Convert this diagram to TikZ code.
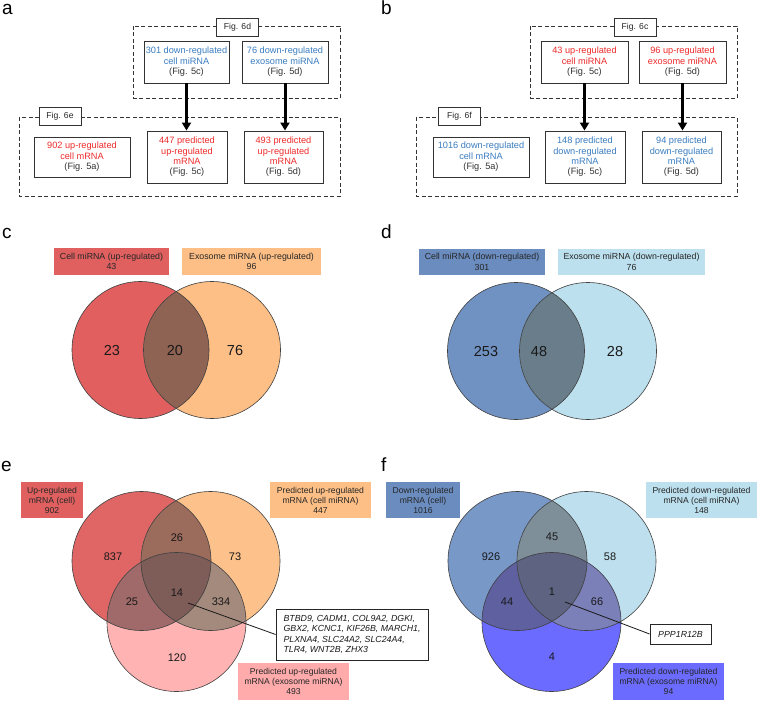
\documentclass[tikz,border=0pt]{standalone}
\usepackage{fontspec}
\setmainfont{Liberation Sans}
\usetikzlibrary{arrows.meta}
\definecolor{txtred}{HTML}{EE2B2B}
\definecolor{txtblue}{HTML}{3A7DC0}
\definecolor{cRed}{HTML}{E15F5F}
\definecolor{cOrange}{HTML}{FDBF86}
\definecolor{cRO}{HTML}{8F6353}
\definecolor{dBlue}{HTML}{7092C2}
\definecolor{dLight}{HTML}{BDE0EE}
\definecolor{dOv}{HTML}{697E8A}
\definecolor{eA}{HTML}{E06666}
\definecolor{eB}{HTML}{FDC28B}
\definecolor{eC}{HTML}{FFB3B3}
\definecolor{eAB}{HTML}{9B6B5C}
\definecolor{eAC}{HTML}{A06A6A}
\definecolor{eBC}{HTML}{A48A7C}
\definecolor{eABC}{HTML}{7E5C58}
\definecolor{fA}{HTML}{7898C8}
\definecolor{fB}{HTML}{BEE0EE}
\definecolor{fC}{HTML}{6B6BFF}
\definecolor{fAB}{HTML}{7F8F9A}
\definecolor{fAC}{HTML}{5E60A0}
\definecolor{fBC}{HTML}{7B80B8}
\definecolor{fABC}{HTML}{5D6380}
\definecolor{lRed}{HTML}{E06060}
\definecolor{lOrange}{HTML}{FDBF85}
\definecolor{lPink}{HTML}{FFABAB}
\definecolor{lBlue}{HTML}{6A8CBF}
\definecolor{lLight}{HTML}{BCE0EE}
\definecolor{lViolet}{HTML}{6B6BFF}
\begin{document}
\begin{tikzpicture}[x=1pt,y=-1pt,
 fbox/.style={draw=black!80, line width=0.9pt, fill=white, align=center, inner sep=0pt, text=black!80, font=\fontsize{9.2}{10.4}\selectfont},
 grp/.style={draw=black!80, dash pattern=on 4pt off 2.5pt, line width=0.9pt},
 figlbl/.style={draw=black!80, line width=0.9pt, fill=white, minimum width=42pt, minimum height=18pt, inner sep=0pt, text=black!85, font=\fontsize{8.6}{10}\selectfont},
 bigarrow/.style={line width=3pt, -{Triangle[width=9pt,length=8pt]}},
 vlabel/.style={align=center, inner sep=0pt, text=black!85, font=\fontsize{8.8}{10.4}\selectfont},
 vlabele/.style={align=center, inner sep=0pt, text=black!85, font=\fontsize{8.6}{10}\selectfont},
 vnum/.style={text=black!90, font=\fontsize{14.5}{16}\selectfont},
 vnumsm/.style={text=black!90, font=\fontsize{11}{13}\selectfont},
 circ/.style={draw=black!75, line width=0.6pt},
 letter/.style={font=\fontsize{19}{20}\selectfont, anchor=base west, inner sep=0pt},
 callout/.style={draw=black!85, line width=0.8pt, fill=white, align=left, inner sep=0pt, text=black!90, font=\fontsize{8.8}{10.4}\selectfont\itshape},
]
\useasboundingbox[fill=white] (0,0) rectangle (758,701);

% ---------------- panel letters
\node[letter] (La) at (2,15) {a};
\node[letter] (Lb) at (381,15) {b};
\node[letter] (Lc) at (2,238) {c};
\node[letter] (Ld) at (381,238) {d};
\node[letter] (Le) at (1,471) {e};
\node[letter] (Lf) at (381,471) {f};

% ---------------- panel a
\draw[grp] (133,26) rectangle (340,98);
\draw[grp] (19,117) rectangle (340,196);
\node[figlbl] (g6d) at (237.5,27) {Fig. 6d};
\node[figlbl] (g6e) at (60,116) {Fig. 6e};
\node[fbox, minimum width=85pt, minimum height=42pt] (a1) at (186.5,62)
  {\textcolor{txtblue}{301 down-regulated}\\\textcolor{txtblue}{cell miRNA}\\(Fig. 5c)};
\node[fbox, minimum width=86pt, minimum height=42pt] (a2) at (285,62)
  {\textcolor{txtblue}{76 down-regulated}\\\textcolor{txtblue}{exosome miRNA}\\(Fig. 5d)};
\node[fbox, minimum width=96pt, minimum height=40pt] (a3) at (82,157)
  {\textcolor{txtred}{902 up-regulated}\\\textcolor{txtred}{cell mRNA}\\(Fig. 5a)};
\node[fbox, minimum width=80pt, minimum height=52pt] (a4) at (187,157)
  {\textcolor{txtred}{447 predicted}\\\textcolor{txtred}{up-regulated}\\\textcolor{txtred}{mRNA}\\(Fig. 5c)};
\node[fbox, minimum width=79pt, minimum height=52pt] (a5) at (283.5,157)
  {\textcolor{txtred}{493 predicted}\\\textcolor{txtred}{up-regulated}\\\textcolor{txtred}{mRNA}\\(Fig. 5d)};
\draw[bigarrow] (a1.south) -- (a1.south |- a4.north);
\draw[bigarrow] (a2.south) -- (a2.south |- a5.north);

% ---------------- panel b
\draw[grp] (530,26) rectangle (737,98);
\draw[grp] (416,117) rectangle (737,196);
\node[figlbl] (g6c) at (635,27) {Fig. 6c};
\node[figlbl] (g6f) at (459.5,116) {Fig. 6f};
\node[fbox, minimum width=87pt, minimum height=42pt] (b1) at (584.5,62)
  {\textcolor{txtred}{43 up-regulated}\\\textcolor{txtred}{cell miRNA}\\(Fig. 5c)};
\node[fbox, minimum width=87pt, minimum height=42pt] (b2) at (682.5,62)
  {\textcolor{txtred}{96 up-regulated}\\\textcolor{txtred}{exosome miRNA}\\(Fig. 5d)};
\node[fbox, minimum width=96pt, minimum height=40pt] (b3) at (481,157)
  {\textcolor{txtblue}{1016 down-regulated}\\\textcolor{txtblue}{cell mRNA}\\(Fig. 5a)};
\node[fbox, minimum width=80pt, minimum height=52pt] (b4) at (585,157)
  {\textcolor{txtblue}{148 predicted}\\\textcolor{txtblue}{down-regulated}\\\textcolor{txtblue}{mRNA}\\(Fig. 5c)};
\node[fbox, minimum width=79pt, minimum height=52pt] (b5) at (681.5,157)
  {\textcolor{txtblue}{94 predicted}\\\textcolor{txtblue}{down-regulated}\\\textcolor{txtblue}{mRNA}\\(Fig. 5d)};
\draw[bigarrow] (b1.south) -- (b1.south |- b4.north);
\draw[bigarrow] (b2.south) -- (b2.south |- b5.north);

% ---------------- panel c
\node[vlabel, fill=lRed, minimum width=115pt, minimum height=27pt] (cl1) at (111.5,261.5) {Cell miRNA (up-regulated)\\43};
\node[vlabel, fill=lOrange, minimum width=139pt, minimum height=27pt] (cl2) at (251.5,261.5) {Exosome miRNA (up-regulated)\\96};
\coordinate (cA) at (140.5,350);
\coordinate (cB) at (212,350);
\fill[cRed] (cA) circle[radius=68.5pt];
\fill[cOrange] (cB) circle[radius=68.5pt];
\begin{scope}
  \clip (cA) circle[radius=68.5pt];
  \fill[cRO] (cB) circle[radius=68.5pt];
\end{scope}
\draw[circ] (cA) circle[radius=68.5pt];
\draw[circ] (cB) circle[radius=68.5pt];
\node[vnum] (c23) at (112,351) {23};
\node[vnum] (c20) at (175,351) {20};
\node[vnum] (c76) at (235,351) {76};

% ---------------- panel d
\node[vlabel, fill=lBlue, minimum width=126pt, minimum height=26pt] (dl1) at (482,262) {Cell miRNA (down-regulated)\\301};
\node[vlabel, fill=lLight, minimum width=147pt, minimum height=26pt] (dl2) at (631.5,262) {Exosome miRNA (down-regulated)\\76};
\coordinate (dA) at (516,351);
\coordinate (dB) at (588,351);
\fill[dBlue] (dA) circle[radius=68.5pt];
\fill[dLight] (dB) circle[radius=68.5pt];
\begin{scope}
  \clip (dA) circle[radius=68.5pt];
  \fill[dOv] (dB) circle[radius=68.5pt];
\end{scope}
\draw[circ] (dA) circle[radius=68.5pt];
\draw[circ] (dB) circle[radius=68.5pt];
\node[vnum] (d253) at (486,352) {253};
\node[vnum] (d48) at (539,352) {48};
\node[vnum] (d28) at (615,352) {28};

% ---------------- panel e
\node[vlabele, fill=lRed, minimum width=62pt, minimum height=36pt] (el1) at (52,500) {Up-regulated\\mRNA (cell)\\902};
\node[vlabele, fill=lOrange, minimum width=101pt, minimum height=36pt] (el2) at (320.5,500) {Predicted up-regulated\\mRNA (cell miRNA)\\447};
\node[vlabele, fill=lPink, minimum width=111pt, minimum height=37pt] (el3) at (293.5,681.5) {Predicted up-regulated\\mRNA (exosome miRNA)\\493};
\coordinate (eCA) at (141.5,561);
\coordinate (eCB) at (210.5,561);
\coordinate (eCC) at (176.5,622);
\fill[eA] (eCA) circle[radius=69.5pt];
\fill[eB] (eCB) circle[radius=69.5pt];
\fill[eC] (eCC) circle[radius=69.5pt];
\begin{scope}
  \clip (eCA) circle[radius=69.5pt];
  \fill[eAB] (eCB) circle[radius=69.5pt];
  \fill[eAC] (eCC) circle[radius=69.5pt];
  \clip (eCB) circle[radius=69.5pt];
  \fill[eABC] (eCC) circle[radius=69.5pt];
\end{scope}
\begin{scope}
  \clip (eCB) circle[radius=69.5pt];
  \clip (eCC) circle[radius=69.5pt];
  \clip (140,540) -- (300,540) -- (300,700) -- (178,700) -- cycle;
  \fill[eBC] (eCC) circle[radius=69.5pt];
\end{scope}
\begin{scope}
  \clip (eCA) circle[radius=69.5pt];
  \clip (eCB) circle[radius=69.5pt];
  \fill[eABC] (eCC) circle[radius=69.5pt];
\end{scope}
\draw[circ] (eCA) circle[radius=69.5pt];
\draw[circ] (eCB) circle[radius=69.5pt];
\draw[circ] (eCC) circle[radius=69.5pt];
\node[vnumsm] (e26) at (177,538) {26};
\node[vnumsm] (e837) at (113,557) {837};
\node[vnumsm] (e73) at (235,557) {73};
\node[vnumsm] (e25) at (132,602) {25};
\node[vnumsm] (e14) at (177,593) {14};
\node[vnumsm] (e334) at (221,602) {334};
\node[vnumsm] (e120) at (177,658) {120};
\node[callout, minimum width=152pt, minimum height=51pt] (ecall) at (352,634.5)
  {BTBD9, CADM1, COL9A2, DGKI,\\GBX2, KCNC1, KIF26B, MARCH1,\\PLXNA4, SLC24A2, SLC24A4,\\TLR4, WNT2B, ZHX3};
\coordinate (ept) at (188,603);
\draw[line width=0.8pt, black!90] (ept) -- (ecall.west);

% ---------------- panel f
\node[vlabele, fill=lBlue, minimum width=74pt, minimum height=36pt] (fl1) at (423,500) {Down-regulated\\mRNA (cell)\\1016};
\node[vlabele, fill=lLight, minimum width=111pt, minimum height=36pt] (fl2) at (701.5,500) {Predicted down-regulated\\mRNA (cell miRNA)\\148};
\node[vlabele, fill=lViolet, minimum width=111pt, minimum height=37pt] (fl3) at (668.5,681.5) {Predicted down-regulated\\mRNA (exosome miRNA)\\94};
\coordinate (fCA) at (517.5,561);
\coordinate (fCB) at (586.5,561);
\coordinate (fCC) at (551.5,622);
\fill[fA] (fCA) circle[radius=69.5pt];
\fill[fB] (fCB) circle[radius=69.5pt];
\fill[fC] (fCC) circle[radius=69.5pt];
\begin{scope}
  \clip (fCA) circle[radius=69.5pt];
  \fill[fAB] (fCB) circle[radius=69.5pt];
  \fill[fAC] (fCC) circle[radius=69.5pt];
\end{scope}
\begin{scope}
  \clip (fCB) circle[radius=69.5pt];
  \fill[fBC] (fCC) circle[radius=69.5pt];
\end{scope}
\begin{scope}
  \clip (fCA) circle[radius=69.5pt];
  \clip (fCB) circle[radius=69.5pt];
  \fill[fABC] (fCC) circle[radius=69.5pt];
\end{scope}
\draw[circ] (fCA) circle[radius=69.5pt];
\draw[circ] (fCB) circle[radius=69.5pt];
\draw[circ] (fCC) circle[radius=69.5pt];
\node[vnumsm] (f45) at (552,537) {45};
\node[vnumsm] (f926) at (491,557) {926};
\node[vnumsm] (f58) at (610,557) {58};
\node[vnumsm] (f44) at (507,602) {44};
\node[vnumsm] (f1) at (552,592) {1};
\node[vnumsm] (f66) at (597,602) {66};
\node[vnumsm] (f4) at (552,657) {4};
\node[callout, minimum width=61pt, minimum height=20pt, align=center] (fcall) at (680.5,634) {PPP1R12B};
\coordinate (fpt) at (565,602);
\draw[line width=0.8pt, black!90] (fpt) -- (fcall.west);
\end{tikzpicture}
\end{document}
